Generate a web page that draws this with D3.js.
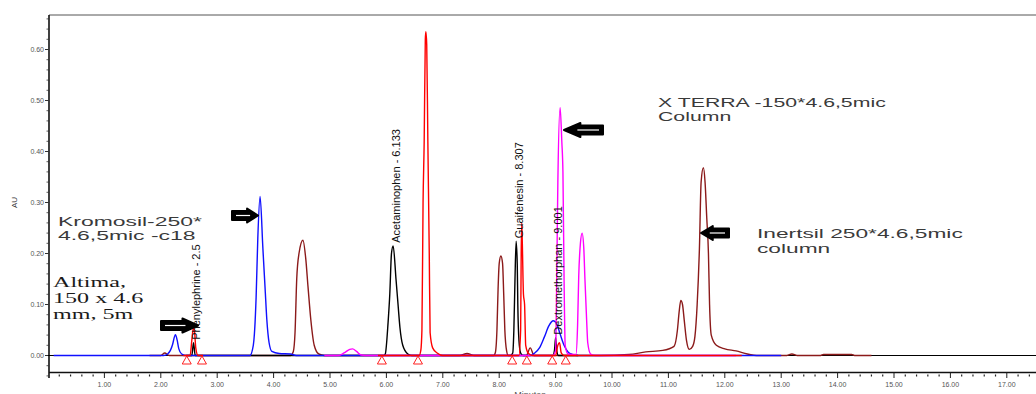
<!DOCTYPE html>
<html>
<head>
<meta charset="utf-8">
<script src="https://cdn.jsdelivr.net/npm/d3@7"></script>
<style>
    html, body { margin: 0; padding: 0; background: #fff; }
    svg { display: block; }
</style>
</head>
<body>
<div id="chart"></div>
<script>
// retention time (min), absorbance (AU)
const brown_trace = [
    [1.8, 0], [2.0, 0], [2.07, 0.005], [2.15, 0],
    [4.30, 0], [4.35, 0.008], [4.38, 0.045], [4.41, 0.15], [4.45, 0.2], [4.52, 0.226], [4.57, 0.19], [4.61, 0.135], [4.66, 0.07], [4.72, 0.02], [4.80, 0.003], [4.9, 0],
    [7.3, 0], [7.43, 0.004], [7.55, 0],
    [7.90, 0], [7.93, 0.005], [7.96, 0.05], [7.98, 0.13], [8.00, 0.18], [8.03, 0.195], [8.06, 0.18], [8.08, 0.12], [8.10, 0.05], [8.13, 0.01], [8.16, 0],
    [8.48, 0], [8.55, 0.015], [8.62, 0],
    [9.8, 0], [10.3, 0.002], [10.6, 0.007], [10.9, 0.01], [11.10, 0.018], [11.16, 0.05], [11.19, 0.085], [11.22, 0.108], [11.25, 0.1], [11.28, 0.07], [11.32, 0.03], [11.37, 0.012],
    [11.43, 0.018], [11.47, 0.037], [11.51, 0.1], [11.55, 0.21], [11.58, 0.34], [11.62, 0.368], [11.65, 0.34], [11.68, 0.27], [11.71, 0.2], [11.73, 0.1], [11.76, 0.04],
    [11.85, 0.02], [12.0, 0.013], [12.2, 0.009], [12.4, 0.003], [12.6, 0],
    [13.1, 0], [13.19, 0.003], [13.28, 0], [13.7, 0], [13.75, 0.002], [14.25, 0.002], [14.3, 0], [14.6, 0]
];

const black_trace = [
    [2.45, 0], [2.55, 0], [2.58, 0.025], [2.61, 0], [2.7, 0],
    [5.95, 0], [5.98, 0.003], [6.03, 0.065], [6.06, 0.12], [6.09, 0.2], [6.12, 0.215], [6.17, 0.15], [6.21, 0.095], [6.24, 0.055], [6.29, 0.02], [6.38, 0.003], [6.45, 0],
    [8.2, 0], [8.24, 0.005], [8.26, 0.05], [8.28, 0.15], [8.30, 0.224], [8.32, 0.18], [8.33, 0.1], [8.35, 0.03], [8.38, 0.005], [8.42, 0],
    [8.95, 0], [8.98, 0.01], [9.00, 0.035], [9.02, 0.01], [9.05, 0], [9.4, 0]
];

const blue_trace = [
    [0.1, 0], [2.05, 0], [2.12, 0.003], [2.17, 0.01], [2.21, 0.022], [2.24, 0.036], [2.26, 0.041], [2.29, 0.03], [2.32, 0.013], [2.37, 0.003], [2.45, 0],
    [3.58, 0], [3.64, 0.02], [3.69, 0.114], [3.72, 0.23], [3.76, 0.312], [3.81, 0.21], [3.85, 0.13], [3.88, 0.07], [3.92, 0.025], [3.97, 0.008], [4.1, 0.004], [4.3, 0.003], [4.4, 0],
    [8.55, 0], [8.62, 0.004], [8.72, 0.016], [8.80, 0.036], [8.88, 0.058], [8.96, 0.068], [9.02, 0.062], [9.08, 0.042], [9.15, 0.02], [9.22, 0.007], [9.3, 0.002], [9.4, 0],
    [13.0, 0]
];

const magenta_trace = [
    [4.9, 0], [5.15, 0], [5.25, 0.005], [5.35, 0.012], [5.40, 0.013], [5.47, 0.008], [5.55, 0.001], [5.7, 0],
    [8.95, 0], [9.00, 0.01], [9.02, 0.15], [9.04, 0.34], [9.08, 0.486], [9.11, 0.42], [9.13, 0.36], [9.15, 0.15], [9.17, 0.02], [9.22, 0.003],
    [9.36, 0.002], [9.39, 0.06], [9.41, 0.155], [9.44, 0.22], [9.47, 0.24], [9.50, 0.21], [9.52, 0.15], [9.55, 0.07], [9.57, 0.025], [9.62, 0.003], [9.7, 0], [12.2, 0]
];

// null = gap in the trace
const red_trace = [
    [2.40, 0], [2.52, 0], [2.55, 0.03], [2.58, 0.055], [2.60, 0.045], [2.62, 0.015], [2.66, 0], [2.75, 0],
    null,
    [5.85, 0], [6.58, 0], [6.61, 0.01], [6.63, 0.05], [6.65, 0.3], [6.67, 0.42], [6.69, 0.62], [6.70, 0.635], [6.715, 0.61], [6.735, 0.42], [6.76, 0.2], [6.775, 0.045], [6.82, 0.015], [6.9, 0.005], [7.0, 0],
    [8.35, 0], [8.38, 0.05], [8.39, 0.2], [8.40, 0.26], [8.41, 0.22], [8.43, 0.12], [8.45, 0.1], [8.47, 0.02], [8.52, 0.004], [8.6, 0],
    [9.0, 0], [9.04, 0.02], [9.07, 0.025], [9.10, 0.005], [9.15, 0], [12.3, 0]
];

// integration marks (min)
const marker_times = [2.46, 2.73, 5.92, 6.56, 8.23, 8.49, 8.94, 9.18];

// peak labels: text, retention time, peak height
const peak_labels = [
    ['Phenylephrine - 2.5', 2.58, 0.025],
    ['Acetaminophen - 6.133', 6.133, 0.215],
    ['Guaifenesin - 8.307', 8.307, 0.224],
    ['Dextromethorphan - 9.001', 9.001, 0.035]
];

const x_ticks = d3.range(1, 18);
const y_ticks = [0, 0.1, 0.2, 0.3, 0.4, 0.5, 0.6];

const width = 1036;
const height = 394;

const svg = d3.select('#chart')
    .append('svg')
    .attr('width', width)
    .attr('height', height);

svg.append('rect').attr('width', width).attr('height', height).attr('fill', '#fff');

const x = d3.scaleLinear().domain([0, 17.5]).range([48, 48 + 17.5 * 56.4]);
const y = d3.scaleLinear().domain([0, 0.6]).range([355.5, 49.5]);

const axis_y = 372.5;
const frame_top = 15;

// frame top + axes
svg.append('line')
    .attr('x1', 49).attr('x2', width).attr('y1', frame_top).attr('y2', frame_top)
    .attr('stroke', '#555').attr('stroke-width', 1);

const y_axis = svg.append('g').attr('transform', 'translate(49,0)');
y_axis.append('line')
    .attr('y1', frame_top).attr('y2', 378)
    .attr('stroke', '#111').attr('stroke-width', 1.6);

y_axis.selectAll('.minor')
    .data(d3.range(-2, 34).map(i => i * 0.02))
    .enter()
    .append('line')
    .attr('x1', -2.5).attr('x2', 0)
    .attr('y1', d => y(d)).attr('y2', d => y(d))
    .attr('stroke', '#333').attr('stroke-width', 0.8);

y_axis.selectAll('.major')
    .data(y_ticks)
    .enter()
    .append('line')
    .attr('x1', -4).attr('x2', 0)
    .attr('y1', d => y(d)).attr('y2', d => y(d))
    .attr('stroke', '#333').attr('stroke-width', 1);

y_axis.selectAll('.tick_label')
    .data(y_ticks)
    .enter()
    .append('text')
    .attr('x', -5)
    .attr('y', d => y(d) + 2.5)
    .attr('text-anchor', 'end')
    .style('font-family', 'Liberation Sans, Arial, sans-serif')
    .style('font-size', '7px')
    .style('fill', '#555')
    .text(d => d.toFixed(2));

svg.append('text')
    .attr('transform', `translate(17, ${y(0.3)}) rotate(-90)`)
    .attr('text-anchor', 'middle')
    .style('font-family', 'Liberation Sans, Arial, sans-serif')
    .style('font-size', '8px')
    .style('fill', '#333')
    .text('AU');

const x_axis = svg.append('g').attr('transform', `translate(0,${axis_y})`);
x_axis.append('line')
    .attr('x1', 49).attr('x2', width)
    .attr('stroke', '#111').attr('stroke-width', 1.6);

x_axis.selectAll('.minor')
    .data(d3.range(1, 88).map(i => i * 0.2).filter(t => Math.abs(t - Math.round(t)) > 0.01))
    .enter()
    .append('line')
    .attr('x1', d => x(d)).attr('x2', d => x(d))
    .attr('y1', 2).attr('y2', 4)
    .attr('stroke', '#222').attr('stroke-width', 1.2);

x_axis.selectAll('.major')
    .data(x_ticks)
    .enter()
    .append('line')
    .attr('x1', d => x(d)).attr('x2', d => x(d))
    .attr('y1', 0).attr('y2', 5.5)
    .attr('stroke', '#222').attr('stroke-width', 1);

x_axis.selectAll('.tick_label')
    .data(x_ticks)
    .enter()
    .append('text')
    .attr('x', d => x(d))
    .attr('y', 14)
    .attr('text-anchor', 'middle')
    .style('font-family', 'Liberation Sans, Arial, sans-serif')
    .style('font-size', '7px')
    .style('fill', '#555')
    .text(d => d.toFixed(2));

// axis title, clipped by the bottom edge as in the original
svg.append('text')
    .attr('x', 530)
    .attr('y', 398)
    .attr('text-anchor', 'middle')
    .style('font-family', 'Liberation Sans, Arial, sans-serif')
    .style('font-size', '9px')
    .style('fill', '#555')
    .text('Minutes');

// zero baseline
svg.append('line')
    .attr('x1', x(0)).attr('x2', width)
    .attr('y1', y(0)).attr('y2', y(0))
    .attr('stroke', '#000').attr('stroke-width', 1);

// traces
const line = d3.line()
    .defined(d => d !== null)
    .x(d => x(d[0]))
    .y(d => y(d[1]))
    .curve(d3.curveMonotoneX);

const traces = [
    [brown_trace, '#8b1a1a'],
    [black_trace, '#000000'],
    [blue_trace, '#1010ff'],
    [magenta_trace, '#ff00ff'],
    [red_trace, '#ff0000']
];

svg.selectAll('.trace')
    .data(traces)
    .enter()
    .append('path')
    .attr('class', 'trace')
    .attr('d', d => line(d[0]))
    .attr('fill', 'none')
    .attr('stroke', d => d[1])
    .attr('stroke-width', 1.4)
    .attr('stroke-linejoin', 'round');

// integration markers
svg.selectAll('.marker')
    .data(marker_times)
    .enter()
    .append('path')
    .attr('d', d => {
        const cx = x(d);
        const top = y(0) + 0.5;
        return `M${cx},${top} L${cx + 4.5},${top + 8} L${cx - 4.5},${top + 8} Z`;
    })
    .attr('fill', 'none')
    .attr('stroke', '#ff2020')
    .attr('stroke-width', 1);

// peak labels (rotated)
svg.selectAll('.peak_label')
    .data(peak_labels)
    .enter()
    .append('text')
    .attr('transform', d => `translate(${x(d[1]) + 6.5}, ${y(d[2]) - 3}) rotate(-90)`)
    .style('font-family', '"Liberation Sans Narrow", "Arial Narrow", sans-serif')
    .style('font-size', '11px')
    .style('fill', '#111')
    .text(d => d[0]);

// block arrows
function draw_arrow(x_tail, x_head, y_center, h) {
    const dir = x_head > x_tail ? 1 : -1;
    const len = Math.abs(x_head - x_tail);
    const neck = x_head - dir * len * 0.42;
    const body = h * 0.32;
    const path = [
        [x_tail, y_center - body],
        [neck, y_center - body],
        [neck, y_center - h / 2],
        [x_head, y_center],
        [neck, y_center + h / 2],
        [neck, y_center + body],
        [x_tail, y_center + body]
    ];
    svg.append('path')
        .attr('d', d3.line().curve(d3.curveLinearClosed)(path))
        .attr('fill', '#000')
        .attr('stroke', '#000')
        .attr('stroke-width', 2)
        .attr('stroke-linejoin', 'round');
    svg.append('line')
        .attr('x1', x_tail + dir * 4).attr('x2', neck + dir * 3)
        .attr('y1', y_center).attr('y2', y_center)
        .attr('stroke', '#fff').attr('stroke-width', 1.2);
}

draw_arrow(161, 198, 325.5, 14);
draw_arrow(232, 258, 215.5, 14);
draw_arrow(603, 564, 130, 14);
draw_arrow(729, 701, 233, 14);

// column annotations, stretched sideways like the original (scale from first line)
function annotate(lines, x0, y0, step, first_width, font, size, fill) {
    let sx = 1;
    lines.forEach((l, i) => {
        const txt = svg.append('text')
            .attr('x', 0)
            .attr('y', y0 + i * step)
            .style('font-family', font)
            .style('font-size', size)
            .style('fill', fill)
            .text(l);
        if (i === 0) sx = first_width / txt.node().getComputedTextLength();
        txt.attr('transform', `translate(${x0},0) scale(${sx},1)`);
    });
}

const sans = '"Liberation Sans", Arial, sans-serif';
const serif = '"Liberation Serif", "Times New Roman", serif';

annotate(['Kromosil-250*', '4.6,5mic -c18'], 58, 226, 14, 144, sans, '12px', '#3a3a3a');
annotate(['Altima,', '150 x 4.6', 'mm, 5m'], 53, 287, 16, 73, serif, '14px', '#1a1a1a');
annotate(['X TERRA -150*4.6,5mic', 'Column'], 658, 107, 14, 228, sans, '12px', '#3a3a3a');
annotate(['Inertsil 250*4.6,5mic', 'column'], 757, 238, 15, 206, sans, '12px', '#3a3a3a');
</script>
</body>
</html>
